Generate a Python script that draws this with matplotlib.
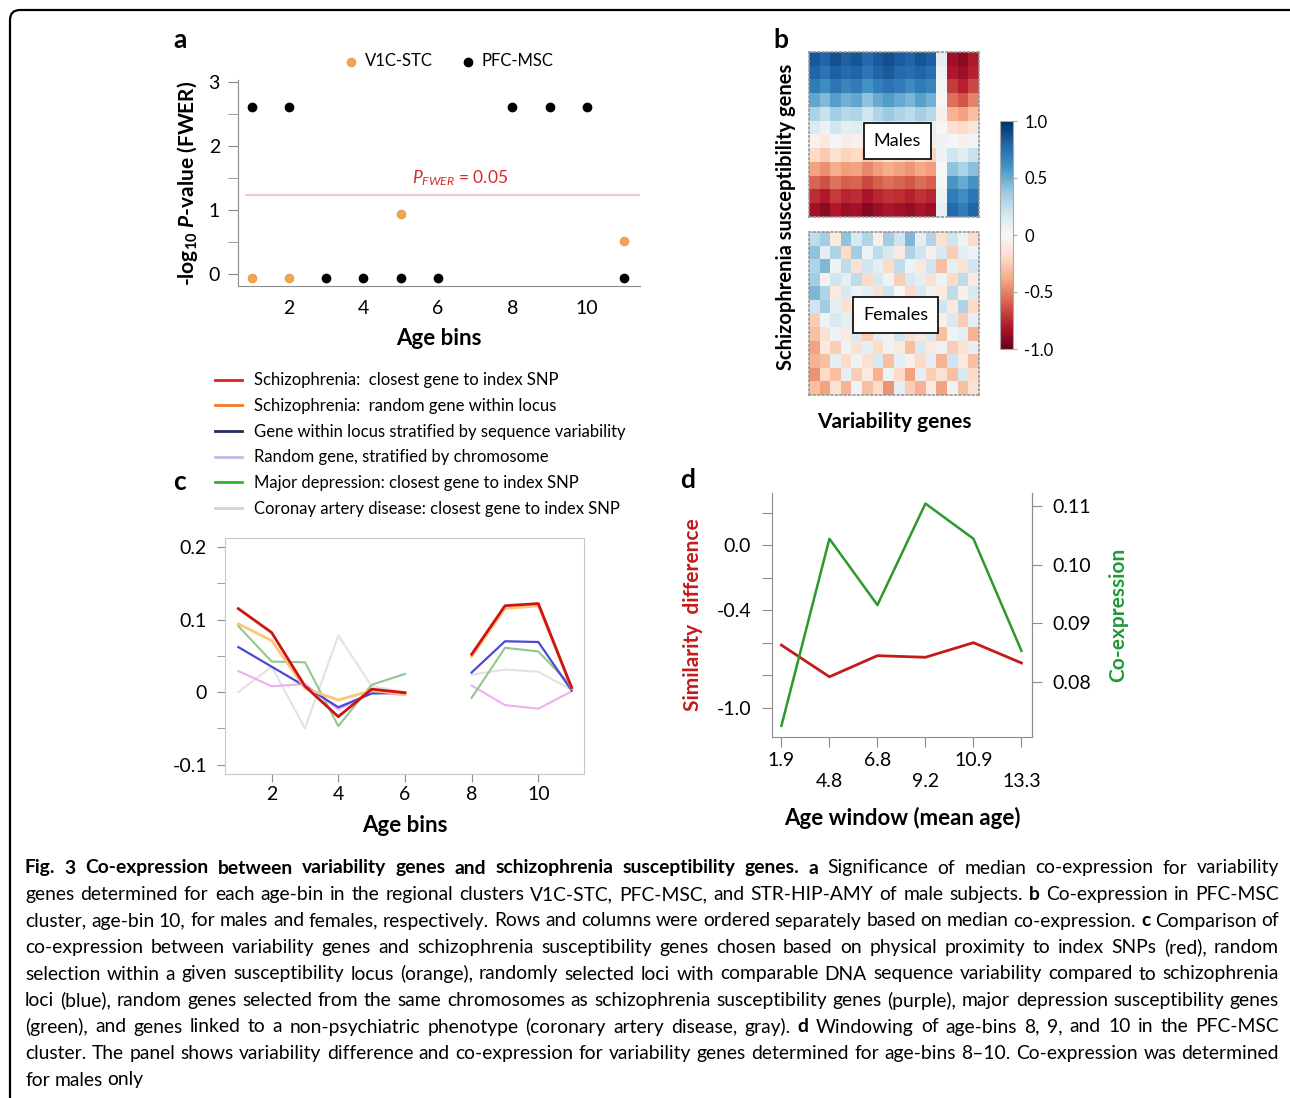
import numpy as np
import matplotlib
matplotlib.use("Agg")
import matplotlib.pyplot as plt
from matplotlib.lines import Line2D
from matplotlib.patches import FancyBboxPatch
from matplotlib.transforms import IdentityTransform

plt.rcParams['font.family'] = ['Lato', 'DejaVu Sans']
plt.rcParams['mathtext.fontset'] = 'custom'
plt.rcParams['mathtext.rm'] = 'Lato'
plt.rcParams['mathtext.it'] = 'Lato:italic'
plt.rcParams['mathtext.bf'] = 'Lato:bold'
plt.rcParams['mathtext.bfit'] = 'Lato:italic:bold'

W, H = 1290, 1098
GREY = '#8c8c8c'

# ── panel a: -log10 P (FWER) per age bin ────────────────────────────────────
v1c_bins = [1, 2, 5, 11]
v1c_vals = [-0.06, -0.06, 0.93, 0.52]
pfc_bins = [1, 2, 3, 4, 5, 6, 8, 9, 10, 11]
pfc_vals = [2.61, 2.61, -0.06, -0.06, -0.06, -0.06, 2.61, 2.61, 2.61, -0.06]
fwer_line = 1.23

# ── panel b: coarse co-expression matrices ──────────────────────────────────
males = np.array([
    [0.85, 0.80, 0.88, 0.82, 0.86, 0.78, 0.84, 0.88, 0.83, 0.80, 0.86, 0.82, 0.10, -0.85, -0.90, -0.80],
    [0.80, 0.74, 0.82, 0.78, 0.80, 0.72, 0.80, 0.84, 0.78, 0.76, 0.80, 0.75, 0.05, -0.80, -0.86, -0.78],
    [0.70, 0.62, 0.72, 0.66, 0.70, 0.60, 0.68, 0.74, 0.70, 0.64, 0.70, 0.66, 0.02, -0.70, -0.78, -0.66],
    [0.52, 0.44, 0.55, 0.48, 0.52, 0.40, 0.50, 0.56, 0.50, 0.46, 0.54, 0.48, 0.00, -0.55, -0.62, -0.50],
    [0.32, 0.22, 0.35, 0.28, 0.30, 0.20, 0.30, 0.36, 0.30, 0.26, 0.34, 0.28, -0.05, -0.35, -0.40, -0.30],
    [0.14, 0.06, 0.18, 0.10, 0.12, 0.04, 0.12, 0.16, 0.12, 0.08, 0.14, 0.10, 0.00, -0.15, -0.20, -0.12],
    [-0.04, -0.10, 0.02, -0.06, -0.04, -0.12, -0.05, 0.00, -0.04, -0.08, -0.02, -0.06, 0.05, 0.02, -0.05, 0.04],
    [-0.20, -0.26, -0.15, -0.22, -0.20, -0.28, -0.22, -0.16, -0.20, -0.24, -0.18, -0.22, 0.05, 0.20, 0.12, 0.22],
    [-0.40, -0.46, -0.36, -0.42, -0.40, -0.48, -0.42, -0.36, -0.40, -0.44, -0.38, -0.42, 0.00, 0.40, 0.32, 0.42],
    [-0.58, -0.64, -0.54, -0.60, -0.58, -0.66, -0.60, -0.55, -0.58, -0.62, -0.56, -0.60, 0.02, 0.58, 0.50, 0.60],
    [-0.74, -0.80, -0.70, -0.76, -0.74, -0.82, -0.76, -0.72, -0.74, -0.78, -0.72, -0.76, 0.05, 0.70, 0.62, 0.72],
    [-0.84, -0.90, -0.80, -0.86, -0.84, -0.92, -0.86, -0.82, -0.84, -0.88, -0.82, -0.86, 0.08, 0.78, 0.70, 0.80],
])
females = np.array([
    [0.25, 0.35, -0.10, 0.40, 0.15, 0.30, -0.05, 0.35, 0.20, 0.45, 0.10, 0.30, -0.15, 0.20, 0.05, -0.20],
    [0.40, 0.10, 0.30, -0.20, 0.35, 0.05, 0.25, 0.15, -0.10, 0.30, 0.20, -0.05, 0.15, -0.25, 0.10, 0.05],
    [0.30, 0.45, 0.05, 0.25, -0.15, 0.20, 0.10, -0.20, 0.25, 0.05, -0.10, 0.20, -0.30, 0.10, -0.15, 0.20],
    [0.35, -0.05, 0.20, 0.10, 0.25, -0.20, 0.15, 0.05, -0.25, 0.15, 0.10, -0.15, 0.05, -0.20, 0.25, -0.10],
    [0.45, 0.30, -0.10, 0.15, 0.05, 0.10, -0.15, 0.20, 0.00, -0.20, 0.15, 0.05, -0.10, 0.25, -0.05, 0.15],
    [0.20, 0.35, 0.10, -0.15, 0.10, -0.05, 0.05, -0.10, 0.15, 0.05, -0.25, 0.10, 0.20, -0.10, 0.30, -0.20],
    [-0.25, 0.05, 0.15, 0.10, -0.20, 0.05, -0.10, 0.15, -0.05, 0.10, 0.05, -0.20, -0.05, 0.15, -0.25, 0.10],
    [-0.30, -0.15, 0.05, -0.10, 0.15, -0.25, 0.10, -0.05, 0.20, -0.15, -0.10, 0.15, -0.30, 0.05, 0.10, -0.35],
    [-0.40, -0.10, -0.25, 0.05, -0.15, 0.10, -0.20, 0.05, -0.10, -0.30, 0.15, -0.10, 0.05, -0.25, -0.15, 0.10],
    [-0.35, -0.30, 0.10, -0.20, 0.05, -0.15, 0.15, -0.30, 0.10, -0.05, -0.20, 0.10, -0.35, 0.20, -0.10, -0.30],
    [-0.45, -0.20, -0.30, 0.10, -0.25, -0.10, -0.35, 0.05, -0.20, -0.40, 0.10, -0.25, -0.15, -0.30, 0.15, -0.20],
    [-0.30, -0.40, -0.15, -0.35, 0.05, -0.30, -0.20, -0.45, 0.10, -0.25, -0.35, -0.10, -0.40, 0.05, -0.30, -0.15],
])
cbar_ticks = [-1.0, -0.5, 0, 0.5, 1.0]
cbar_labels = ['-1.0', '-0.5', '0', '0.5', '1.0']

# ── panel c: median co-expression per age bin (bin 7 missing) ───────────────
c_bins = np.arange(1, 12)
nan = np.nan
scz_closest = [0.115, 0.082, 0.008, -0.034, 0.004, -0.001, nan, 0.052, 0.119, 0.122, 0.006]
scz_random = [0.094, 0.071, 0.005, -0.011, 0.002, -0.003, nan, 0.049, 0.115, 0.119, 0.005]
seq_var = [0.062, 0.035, 0.008, -0.021, -0.002, -0.001, nan, 0.027, 0.070, 0.069, 0.002]
by_chrom = [0.029, 0.008, 0.011, -0.024, -0.001, -0.004, nan, 0.009, -0.018, -0.023, 0.001]
depression = [0.091, 0.042, 0.041, -0.047, 0.010, 0.025, nan, -0.008, 0.061, 0.056, 0.008]
coronary = [0.000, 0.035, -0.050, 0.078, 0.008, 0.000, nan, 0.024, 0.031, 0.028, 0.003]
c_labels = ['Schizophrenia:  closest gene to index SNP',
            'Schizophrenia:  random gene within locus',
            'Gene within locus stratified by sequence variability',
            'Random gene, stratified by chromosome',
            'Major depression: closest gene to index SNP',
            'Coronay artery disease: closest gene to index SNP']

# ── panel d: windowing of age bins 8-10 ─────────────────────────────────────
window_labels = ['1.9', '4.8', '6.8', '9.2', '10.9', '13.3']
similarity_diff = [-0.615, -0.81, -0.68, -0.69, -0.60, -0.725]
coexpression = [0.0725, 0.1044, 0.0931, 0.1104, 0.1044, 0.0853]


def px_axes(fig, x0, y0, x1, y1):
    """Axes from pixel box (top-left origin)."""
    return fig.add_axes([x0 / W, 1 - y1 / H, (x1 - x0) / W, (y1 - y0) / H])


fig = plt.figure(figsize=(W / 100, H / 100), dpi=100)

# outer frame with rounded top-left corner (right/bottom edges run off the page)
frame = FancyBboxPatch((10, -40), 1400, H - 10 + 40,
                       boxstyle='round,pad=0,rounding_size=10',
                       transform=IdentityTransform(), fill=False,
                       lw=1.6, ec='black')
fig.add_artist(frame)

# ---------------------------------------------------------------- panel a
ax = px_axes(fig, 238, 80, 640, 286)
ax.scatter(v1c_bins, v1c_vals, s=38, color='#f5a54a', edgecolor='#e0903a',
           lw=0.6, label='V1C-STC', zorder=3)
ax.scatter(pfc_bins, pfc_vals, s=36, color='black', label='PFC-MSC', zorder=3)
ax.axhline(fwer_line, xmin=0.02, color='#f2c9d2', lw=1.6, zorder=1)
ax.text(6.6, 1.5, r'$\mathit{P}_{\mathit{FWER}}$ = 0.05', color='#d42a2a',
        fontsize=12.5, ha='center', va='center')
ax.set_xlim(0.633, 11.43)
ax.set_ylim(-0.19, 3.036)
ax.set_xticks([2, 4, 6, 8, 10])
ax.set_yticks([0, 1, 2, 3])
ax.set_yticks([0.5, 1.5, 2.5], minor=True)
for s in ['top', 'right']:
    ax.spines[s].set_visible(False)
for s in ['left', 'bottom']:
    ax.spines[s].set_color(GREY)
ax.tick_params(axis='y', which='both', length=7, color=GREY, labelsize=14, pad=6)
ax.tick_params(axis='x', length=0, labelsize=14, pad=10)
ax.set_xlabel('Age bins', fontsize=16, fontweight='bold', labelpad=8)
ax.set_ylabel(r'-log$_{\mathbf{10}}$ $\mathbfit{P}$-value (FWER)', fontsize=15,
              fontweight='bold', labelpad=6)
ax.legend(loc='center', bbox_to_anchor=(448 / W, 1 - 61 / H),
          bbox_transform=fig.transFigure, ncol=2, frameon=False, fontsize=12,
          handlelength=1.0, handletextpad=0.35, columnspacing=1.6, borderpad=0)

# ---------------------------------------------------------------- panel b
ax_m = px_axes(fig, 809, 52, 979, 217)
ax_f = px_axes(fig, 809, 232, 979, 395)
for a, mat in [(ax_m, males), (ax_f, females)]:
    im = a.imshow(mat, cmap='RdBu', vmin=-1, vmax=1, aspect='auto',
                  interpolation='nearest')
    a.set_xticks([])
    a.set_yticks([])
    for s in a.spines.values():
        s.set_color('#999999')
        s.set_linestyle(':')
        s.set_linewidth(1.2)
box_style = dict(boxstyle='square,pad=0.55', fc='white', ec='black', lw=1.2)
ax_m.text(0.52, 0.46, 'Males', transform=ax_m.transAxes, ha='center', va='center',
          fontsize=13, bbox=box_style)
ax_f.text(0.51, 0.49, 'Females', transform=ax_f.transAxes, ha='center', va='center',
          fontsize=13, bbox=box_style)
ax_m.set_ylabel('Schizophrenia susceptibility genes', fontsize=14.5, fontweight='bold')
ax_m.yaxis.set_label_coords(-0.075, 0.0)
ax_f.set_xlabel('Variability genes', fontsize=15, fontweight='bold', labelpad=12)

cax = px_axes(fig, 1000, 121, 1013, 349)
cb = fig.colorbar(im, cax=cax, ticks=cbar_ticks)
cb.set_ticklabels(cbar_labels)
cb.outline.set_edgecolor('#aaaaaa')
cax.tick_params(labelsize=12, length=3, color='#aaaaaa', pad=5)

# ---------------------------------------------------------------- panel c
ax_c = px_axes(fig, 225, 538, 584, 774)
series = [(coronary, '#e2e2e2', 1.5), (by_chrom, '#eeb0ee', 1.5),
          (depression, '#90c890', 1.5), (seq_var, '#4a4ad8', 1.6),
          (scz_random, '#fbc57a', 2.0), (scz_closest, '#cc1414', 2.0)]
for vals, col, lw in series:
    ax_c.plot(c_bins, vals, color=col, lw=lw)
ax_c.set_xlim(0.6, 11.37)
ax_c.set_ylim(-0.113, 0.2124)
ax_c.set_xticks([2, 4, 6, 8, 10])
ax_c.set_yticks([-0.1, 0, 0.1, 0.2])
ax_c.set_yticklabels(['-0.1', '0', '0.1', '0.2'])
ax_c.set_yticks([-0.05, 0.05, 0.15], minor=True)
for s in ax_c.spines.values():
    s.set_color('#c8c8c8')
ax_c.tick_params(axis='both', which='both', length=6, color=GREY, labelsize=14, pad=7)
ax_c.tick_params(axis='x', pad=3)
ax_c.set_xlabel('Age bins', fontsize=16, fontweight='bold', labelpad=8)

legend_cols = ['#dd2020', '#f47a22', '#1f2d5c', '#c9b9e2', '#2ab52a', '#d4d4d4']
handles = [Line2D([], [], color=c, lw=2) for c in legend_cols]
ax_c.legend(handles, c_labels, loc='upper left', bbox_to_anchor=(207 / W, 1 - 364 / H),
            bbox_transform=fig.transFigure, frameon=False, fontsize=12,
            handlelength=1.6, handletextpad=0.75, labelspacing=0.58, borderpad=0)

# ---------------------------------------------------------------- panel d
ax_d = px_axes(fig, 772, 493, 1032, 737)
xpos = np.arange(len(window_labels))
ax_d.plot(xpos, similarity_diff, color='#c41a1a', lw=2)
ax_d.set_xlim(-0.196, 5.22)
ax_d.set_ylim(-1.18, 0.32)
ax_d.set_yticks([0.2, 0.0, -0.2, -0.4, -0.6, -0.8, -1.0])
ax_d.set_yticklabels(['', '0.0', '', '-0.4', '', '', '-1.0'])
ax_d.set_xticks(xpos)
ax_d.set_xticklabels([lab if i % 2 == 0 else '\n' + lab
                      for i, lab in enumerate(window_labels)])
for t in ax_d.get_xticklabels():
    t.set_linespacing(1.3)
ax_d.spines['top'].set_visible(False)
for s in ['left', 'bottom', 'right']:
    ax_d.spines[s].set_color(GREY)
ax_d.tick_params(axis='both', length=7, color=GREY, labelsize=14, pad=8)
ax_d.tick_params(axis='x', pad=4)
ax_d.set_xlabel('Age window (mean age)', fontsize=16, fontweight='bold', labelpad=12)
ax_d.set_ylabel('Similarity  difference', fontsize=15, fontweight='bold',
                color='#c41a1a', labelpad=10)

ax_d2 = ax_d.twinx()
ax_d2.plot(xpos, coexpression, color='#2b9a2b', lw=1.8)
ax_d2.set_ylim(0.0706, 0.1122)
ax_d2.set_yticks([0.08, 0.09, 0.10, 0.11])
ax_d2.set_yticklabels(['0.08', '0.09', '0.10', '0.11'])
for s in ['top', 'left', 'bottom']:
    ax_d2.spines[s].set_visible(False)
ax_d2.spines['right'].set_color(GREY)
ax_d2.tick_params(axis='y', length=7, color=GREY, labelsize=14, pad=8)
ax_d2.set_ylabel('Co-expression', fontsize=15, fontweight='bold', color='#1f9a3a',
                 labelpad=12)

# panel letters
for letter, x, y in [('a', 180, 40), ('b', 781, 40), ('c', 180, 482), ('d', 688, 480)]:
    fig.text(x / W, 1 - y / H, letter, fontsize=19, fontweight='bold',
             ha='center', va='center')

# ---------------------------------------------------------------- caption
caption = [
    [("Fig. 3 Co-expression between variability genes and schizophrenia susceptibility genes. a", True),
     ("Significance of median co-expression for variability", False)],
    [("genes determined for each age-bin in the regional clusters V1C-STC, PFC-MSC, and STR-HIP-AMY of male subjects.", False),
     ("b", True), ("Co-expression in PFC-MSC", False)],
    [("cluster, age-bin 10, for males and females, respectively. Rows and columns were ordered separately based on median co-expression.", False),
     ("c", True), ("Comparison of", False)],
    [("co-expression between variability genes and schizophrenia susceptibility genes chosen based on physical proximity to index SNPs (red), random", False)],
    [("selection within a given susceptibility locus (orange), randomly selected loci with comparable DNA sequence variability compared to schizophrenia", False)],
    [("loci (blue), random genes selected from the same chromosomes as schizophrenia susceptibility genes (purple), major depression susceptibility genes", False)],
    [("(green), and genes linked to a non-psychiatric phenotype (coronary artery disease, gray).", False),
     ("d", True), ("Windowing of age-bins 8, 9, and 10 in the PFC-MSC", False)],
    [("cluster. The panel shows variability difference and co-expression for variability genes determined for age-bins 8–10. Co-expression was determined", False)],
    [("for males only", False)],
]


def draw_caption(lines, x_left, x_right, y_first, pitch, base_size):
    renderer = fig.canvas.get_renderer()
    span = x_right - x_left

    # pick a size so the widest line fits with ordinary word spacing
    natural = []
    for segs in lines:
        words = [(w, b) for txt, b in segs for w in txt.split()]
        probe = [fig.text(0, 0, w, fontsize=base_size,
                          fontweight='bold' if b else 'normal') for w, b in words]
        wsum = sum(p.get_window_extent(renderer).width for p in probe)
        natural.append(wsum + (len(words) - 1) * base_size * 100 / 72 * 0.24)
        for p in probe:
            p.remove()
    size = base_size * span / max(natural[:-1]) * 0.995

    for i, segs in enumerate(lines):
        words = [(w, b) for txt, b in segs for w in txt.split()]
        y = 1 - (y_first + i * pitch) / H
        arts = [fig.text(0, y, w, fontsize=size, va='center',
                         fontweight='bold' if b else 'normal') for w, b in words]
        widths = [a.get_window_extent(renderer).width for a in arts]
        if i < len(lines) - 1:
            gap = (span - sum(widths)) / (len(words) - 1)
        else:
            gap = size * 100 / 72 * 0.24
        x = x_left
        for a, w in zip(arts, widths):
            a.set_x(x / W)
            x += w + gap


draw_caption(caption, 25, 1279, 868, 26.5, 12.0)

fig.savefig('out.png', dpi=100)
